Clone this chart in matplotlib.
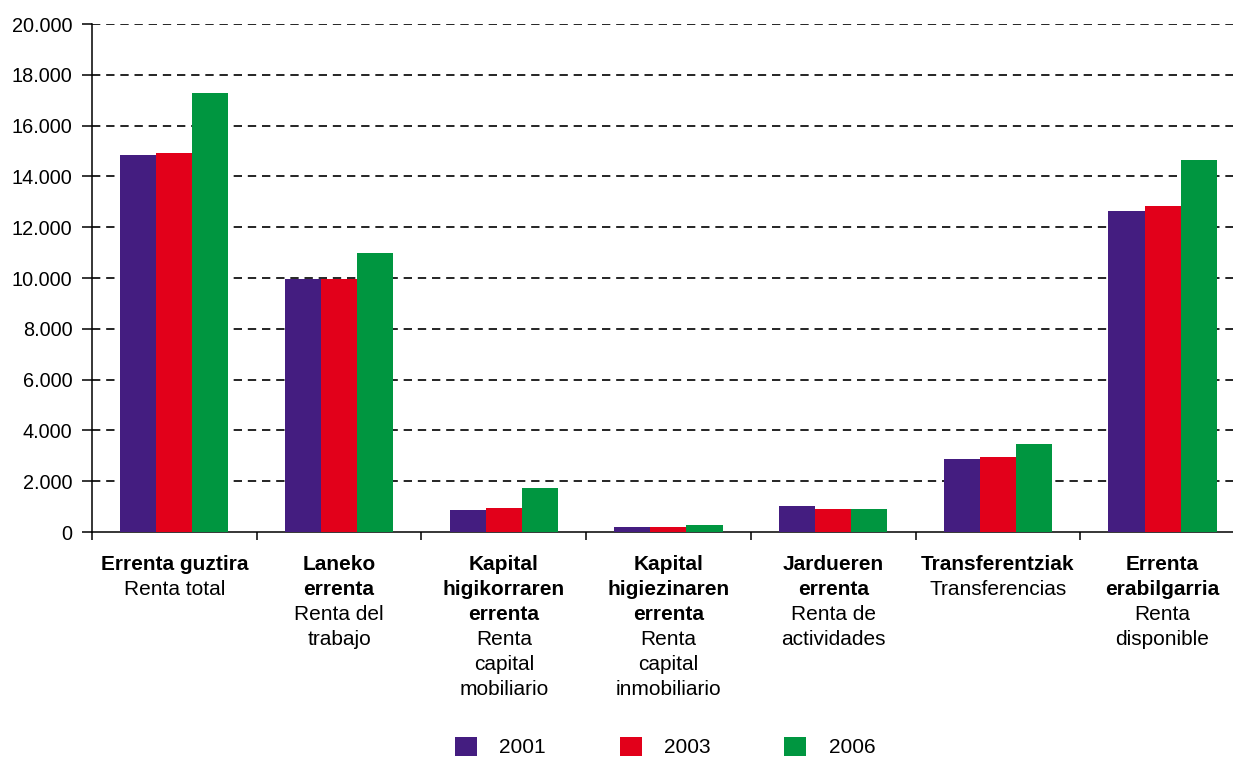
import numpy as np
import matplotlib
matplotlib.use('Agg')
import matplotlib.pyplot as plt
from matplotlib.patches import Patch
from matplotlib.ticker import FuncFormatter, FixedLocator

plt.rcParams['font.family'] = ['Liberation Sans', 'DejaVu Sans']

# data
years = ['2001', '2003', '2006']
bold_labels = ['Errenta guztira', 'Laneko\nerrenta', 'Kapital\nhigikorraren\nerrenta',
               'Kapital\nhigiezinaren\nerrenta', 'Jardueren\nerrenta',
               'Transferentziak', 'Errenta\nerabilgarria']
plain_labels = ['Renta total', 'Renta del\ntrabajo', 'Renta\ncapital\nmobiliario',
                'Renta\ncapital\ninmobiliario', 'Renta de\nactividades',
                'Transferencias', 'Renta\ndisponible']
v2001 = [14840, 9950, 860, 185, 1030, 2870, 12640]
v2003 = [14930, 9950, 935, 185, 915, 2950, 12835]
v2006 = [17300, 11000, 1725, 265, 915, 3460, 14640]
colors = ['#441d80', '#e2001a', '#009640']

W, H = 1233, 758
fig = plt.figure(figsize=(W / 100, H / 100), dpi=100)
ax = fig.add_axes([92 / W, (H - 532) / H, (W - 92) / W, 508 / H])

x = np.arange(len(bold_labels))
bw = 0.219
for i, (vals, c) in enumerate(zip([v2001, v2003, v2006], colors)):
    ax.bar(x + (i - 1) * bw, vals, width=bw, color=c, zorder=3, linewidth=0)

ax.set_ylim(0, 20000)
ax.set_xlim(-0.5, -0.5 + (W - 92) / 164.7)
ax.set_yticks(np.arange(0, 20001, 2000))
ax.yaxis.set_major_formatter(FuncFormatter(lambda v, p: f'{int(v):,}'.replace(',', '.')))
for yv in np.arange(2000, 20001, 2000):
    ax.axhline(yv, color='black', lw=1.2, dashes=(5, 3.5), zorder=1)

ax.xaxis.set_major_locator(FixedLocator(np.arange(-0.5, 6.0, 1.0)))
ax.set_xticklabels([])
ax.tick_params(axis='x', direction='out', length=6, width=1.1, color='black')
ax.tick_params(axis='y', direction='out', length=7, width=1.1, labelsize=14.3, pad=7)

for s in ['top', 'right']:
    ax.spines[s].set_visible(False)
ax.spines['left'].set_linewidth(1.1)
ax.spines['bottom'].set_linewidth(1.1)

# two-style category labels, one line at a time
line_h = 18
for xi, b, p in zip(x, bold_labels, plain_labels):
    lines = [(t, 'bold') for t in b.split('\n')] + [(t, 'normal') for t in p.split('\n')]
    for k, (t, wgt) in enumerate(lines):
        ax.annotate(t, xy=(xi, 0), xycoords=('data', 'axes fraction'),
                    xytext=(0, -27.5 - k * line_h), textcoords='offset points',
                    ha='center', va='baseline', fontsize=15, fontweight=wgt,
                    annotation_clip=False)

handles = [Patch(facecolor=c, edgecolor='none', label=y) for c, y in zip(colors, years)]
fig.legend(handles=handles, loc='center', bbox_to_anchor=(665 / W, 1 - 747 / H),
           ncol=3, frameon=False, fontsize=15, handlelength=1.06, handleheight=1.06,
           handletextpad=1.06, columnspacing=3.55, borderpad=0)

fig.savefig('out.png', dpi=100)
